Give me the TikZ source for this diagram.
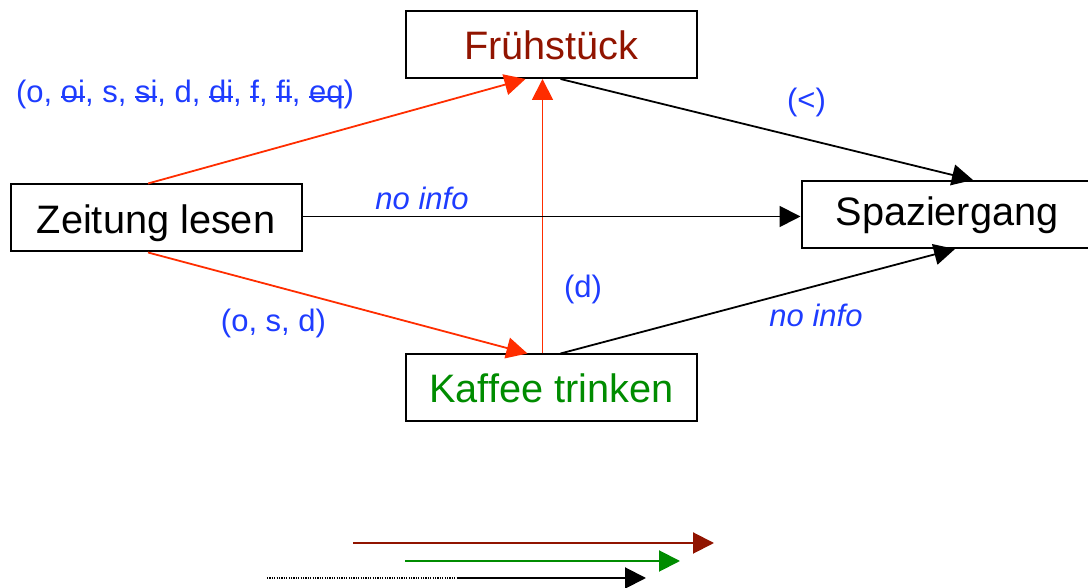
\documentclass[tikz,border=0pt]{standalone}
\usepackage{fontspec}
\setmainfont{Liberation Sans}
\usetikzlibrary{arrows.meta,calc}

\definecolor{lblue}{RGB}{30,60,255}
\definecolor{arrred}{RGB}{255,45,0}
\definecolor{darkred}{RGB}{145,20,0}
\definecolor{kgreen}{RGB}{0,140,0}

% struck-out relation name
\newcommand\strk[1]{\setbox0\hbox{#1}\rlap{\rule[0.28ex]{\wd0}{2pt}}\box0}

\begin{document}
\begin{tikzpicture}[x=1pt,y=1pt,
  box/.style={draw, line width=2pt, minimum width=291pt, minimum height=67pt,
    inner sep=0pt, text depth=2pt, text height=32pt,
    font=\fontsize{39.7}{44}\selectfont},
  lbl/.style={text=lblue, anchor=base, inner sep=0pt,
    font=\fontsize{31}{36}\selectfont},
  redconn/.style={draw=arrred, line width=1.8pt,
    -{Triangle[length=21pt,width=21pt]}, fill=arrred},
  blkconn/.style={draw=black, line width=1.8pt,
    -{Triangle[length=21pt,width=21pt]}},
  legend/.style={line width=2pt, -{Triangle[length=21pt,width=21pt]}}]
\useasboundingbox (0,0) rectangle (1088,588);

% activities
\node[box, text=darkred] (f) at (551.5,543.5) {Frühstück};
\node[box, text height=34pt] (z) at (156,370) {Zeitung lesen};
\node[box, text=kgreen] (k) at (551.5,200) {Kaffee trinken};
\node[box, text height=24.6pt] (s) at (947,373.5) {Spaziergang};

% relations
\draw[redconn] ([xshift=-8pt]z.north) -- ([xshift=-26pt]f.south);
\draw[redconn] ([xshift=-9pt]k.north) -- ([xshift=-9pt]k.north |- f.south);
\draw[redconn] ([xshift=-8pt]z.south) -- ([xshift=-24pt]k.north);
\draw[blkconn] ([xshift=9pt]f.south) -- ([xshift=26pt]s.north);
\draw[blkconn] ([yshift=1.5pt]z.east) -- ([yshift=1.5pt]z.east -| s.west);
\draw[blkconn] ([xshift=9pt]k.north) -- ([xshift=8pt]s.south);

% relation labels
\node[lbl] (l1) at (185,485) {(o, \strk{oi}, s, \strk{si}, d, \strk{di}, \strk{f}, \strk{fi}, \strk{eq})};
\node[lbl] (l2) at (806.5,477) {(<)};
\node[lbl, font=\fontsize{31}{36}\selectfont\itshape] (l3) at (422,378) {no info};
\node[lbl] (l4) at (583,290) {(d)};
\node[lbl] (l5) at (273.5,256.5) {(o, s, d)};
\node[lbl, font=\fontsize{31}{36}\selectfont\itshape] (l6) at (816,261.3) {no info};

% legend arrows
\coordinate (r1) at (353,45);
\coordinate (r2) at (714,45);
\coordinate (g1) at (405,27);
\coordinate (g2) at (680,27);
\coordinate (b0) at (267,10);
\coordinate (b1) at (457,10);
\coordinate (b2) at (646,10);
\draw[legend, draw=darkred, fill=darkred] (r1) -- (r2);
\draw[legend, draw=kgreen, fill=kgreen] (g1) -- (g2);
\draw[line width=1.5pt, dash pattern=on 1.2pt off 1.2pt] (b0) -- (b1);
\draw[legend] (b1) -- (b2);
\end{tikzpicture}
\end{document}
